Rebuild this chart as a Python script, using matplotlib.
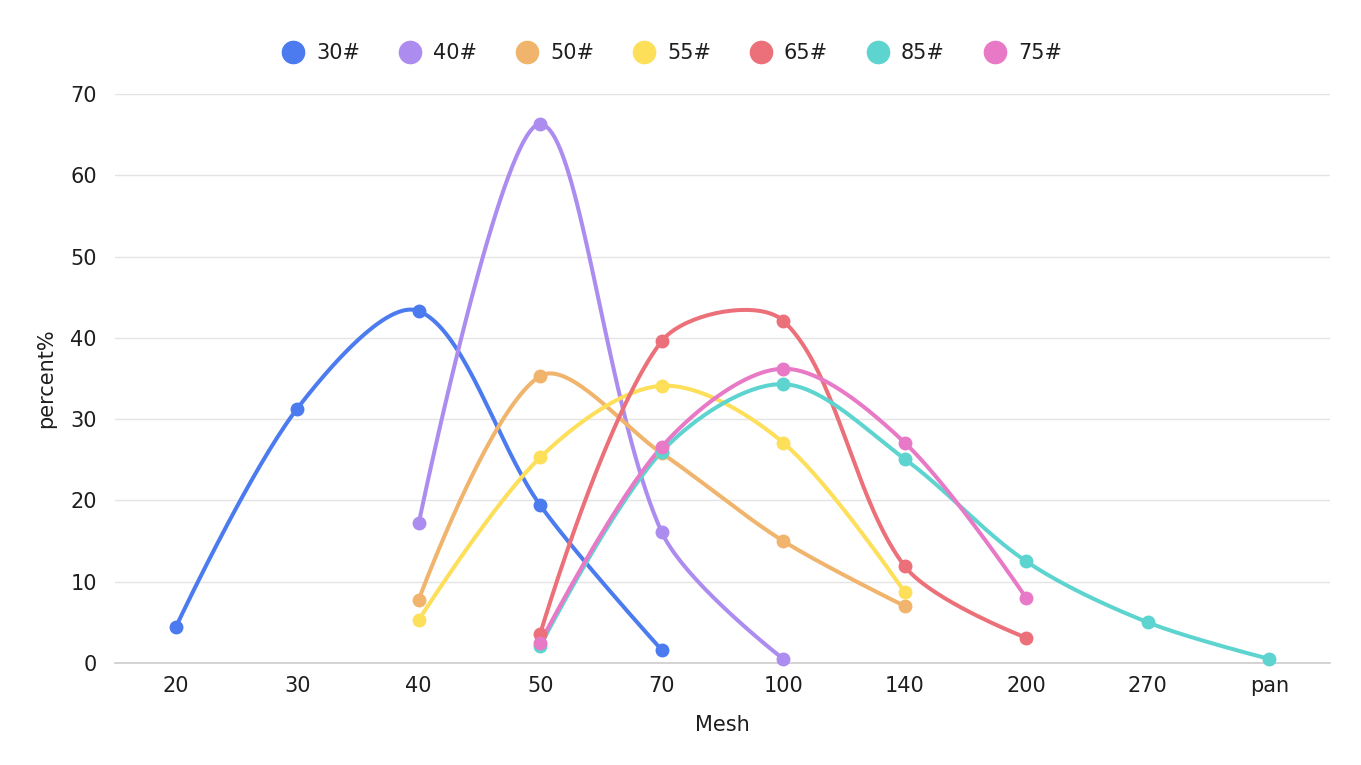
import numpy as np
import matplotlib
matplotlib.use("Agg")
import matplotlib.pyplot as plt
from matplotlib.lines import Line2D

plt.rcParams['font.family'] = ['DejaVu Sans']

categories = ['20', '30', '40', '50', '70', '100', '140', '200', '270', 'pan']
series_names = ['30#', '40#', '50#', '55#', '65#', '85#', '75#']
s30 = [4.4, 31.3, 43.3, 19.4, 1.6, None, None, None, None, None]
s40 = [None, None, 17.2, 66.3, 16.1, 0.5, None, None, None, None]
s50 = [None, None, 7.8, 35.3, 25.8, 15.0, 7.0, None, None, None]
s55 = [None, None, 5.3, 25.3, 34.1, 27.1, 8.7, None, None, None]
s65 = [None, None, None, 3.6, 39.6, 42.1, 11.9, 3.1, None, None]
s85 = [None, None, None, 2.1, 26.0, 34.3, 25.1, 12.5, 5.0, 0.5]
s75 = [None, None, None, 2.5, 26.6, 36.2, 27.1, 8.0, None, None]
series_values = [s30, s40, s50, s55, s65, s85, s75]
colors = ['#4b7bef', '#ad8cf0', '#f0b46c', '#fddf5a', '#ec7079', '#5dd4cf', '#e879c6']

W, H = 1361, 765
fig = plt.figure(figsize=(W / 100, H / 100), dpi=100)
ax = fig.add_axes([115 / W, 1 - 663 / H, (1330 - 115) / W, (663 - 94) / H])
ax.set_xlim(-0.5, len(categories) - 0.5)
ax.set_ylim(0, 70)

# pixel scale factors so smoothing happens in screen space
sx = (1330 - 115) / len(categories)
sy = (663 - 94) / 70.0


def smooth_curve(xs, ys, smooth=0.32, n=40):
    P = np.column_stack([np.array(xs) * sx, np.array(ys) * sy])
    out = [P[0]]
    cp0 = P[0].copy()
    for k in range(1, len(P)):
        cur = P[k]
        prev = P[k - 1]
        if k + 1 < len(P):
            nxt = P[k + 1]
            v = nxt - prev
            l0 = np.hypot(*(cur - prev))
            l1 = np.hypot(*(nxt - cur))
            r = l1 / (l0 + l1)
            ncp0 = cur - v * smooth * (1 - r)
            ncp1 = cur + v * smooth * r
        else:
            ncp0 = cur.copy()
            ncp1 = cur.copy()
        t = np.linspace(0, 1, n)[1:, None]
        seg = ((1 - t) ** 3) * prev + 3 * ((1 - t) ** 2) * t * cp0 + 3 * (1 - t) * t ** 2 * ncp0 + t ** 3 * cur
        out.extend(seg)
        cp0 = ncp1
    out = np.array(out)
    return out[:, 0] / sx, out[:, 1] / sy


for vals, col, name in zip(series_values, colors, series_names):
    xs = [i for i, v in enumerate(vals) if v is not None]
    ys = [v for v in vals if v is not None]
    cx, cy = smooth_curve(xs, ys)
    ax.plot(cx, cy, color=col, lw=2.9, solid_capstyle='round', zorder=3, clip_on=False)
    ax.plot(xs, ys, 'o', color=col, ms=9, zorder=4, clip_on=False)

txt = '#1e1e1e'
ax.set_yticks(range(0, 71, 10))
ax.set_xticks(range(len(categories)))
ax.set_xticklabels(categories)
ax.grid(axis='y', color='#e4e4e4', lw=1)
ax.set_axisbelow(True)
for s in ['top', 'right', 'left']:
    ax.spines[s].set_visible(False)
ax.spines['bottom'].set_color('#cccccc')
ax.spines['bottom'].set_linewidth(1.2)
ax.tick_params(axis='both', length=0, labelsize=15, colors=txt)
ax.tick_params(axis='x', pad=9)
ax.tick_params(axis='y', pad=13)
ax.set_xlabel('Mesh', fontsize=15, color=txt, labelpad=14)
ax.set_ylabel('percent%', fontsize=15, color=txt, labelpad=10)

handles = [Line2D([], [], marker='o', ls='none', color=c, ms=16) for c in colors]
fig.legend(handles, series_names, loc='center', bbox_to_anchor=(0.494, 1 - 53 / H),
           ncol=7, frameon=False, fontsize=15, handlelength=1.0, handletextpad=0.6,
           columnspacing=1.9, labelcolor=txt, borderpad=0, borderaxespad=0)

fig.savefig('out.png', dpi=100)
